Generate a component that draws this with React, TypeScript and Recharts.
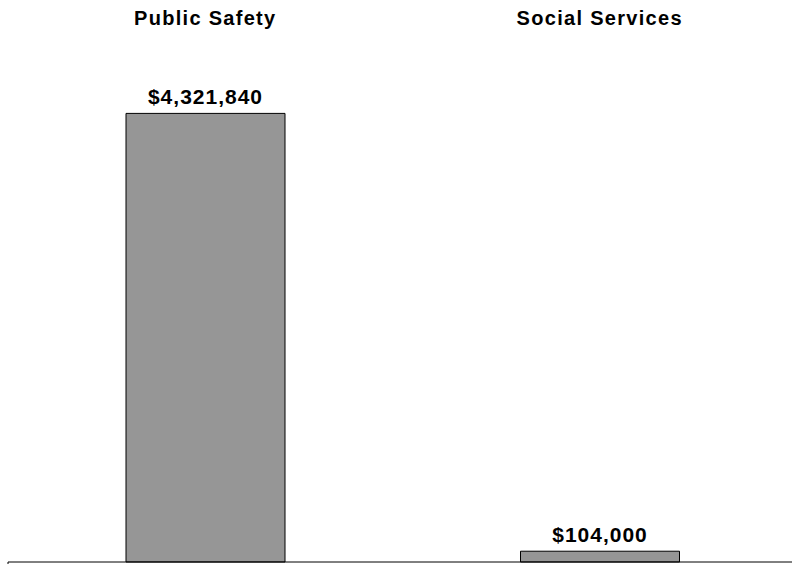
import { Bar, BarChart, LabelList, XAxis, YAxis } from "recharts";

const categories = ["Public Safety", "Social Services"];
const amounts = [4321840, 104000];

const data = categories.map((name, i) => ({ name, amount: amounts[i] }));

const fmt = (v: any) => "$" + Number(v).toLocaleString("en-US");

const font = "Liberation Sans, Arial, sans-serif";

const App = () => {
  return (
    <div style={{ position: "absolute", left: 0, top: 0, width: 792, height: 564, overflow: "hidden", background: "#fff" }}>
      <BarChart
        width={800}
        height={564}
        data={data}
        margin={{ top: 0, right: 3, left: 8, bottom: 0 }}
        barCategoryGap={0}
      >
        <XAxis
          dataKey="name"
          orientation="top"
          height={43}
          axisLine={false}
          tickLine={false}
          tickSize={0}
          tickMargin={18}
          tick={{ fill: "#000", fontSize: 20, fontWeight: "bold", fontFamily: font, letterSpacing: 1.3 }}
        />
        <XAxis
          xAxisId="edge"
          type="number"
          domain={[0, 2]}
          ticks={[0, 1, 2]}
          height={2}
          stroke="#000"
          tickSize={3}
          tickFormatter={() => ""}
          allowDataOverflow
        />
        <YAxis hide domain={[0, 5000000]} />
        <Bar dataKey="amount" fill="#969696" stroke="#000" strokeWidth={1} barSize={159} isAnimationActive={false}>
          <LabelList
            dataKey="amount"
            position="top"
            offset={9}
            formatter={fmt}
            fill="#000"
            fontSize={21}
            fontWeight="bold"
            fontFamily={font}
            letterSpacing={1}
          />
        </Bar>
      </BarChart>
    </div>
  );
};

export default App;
